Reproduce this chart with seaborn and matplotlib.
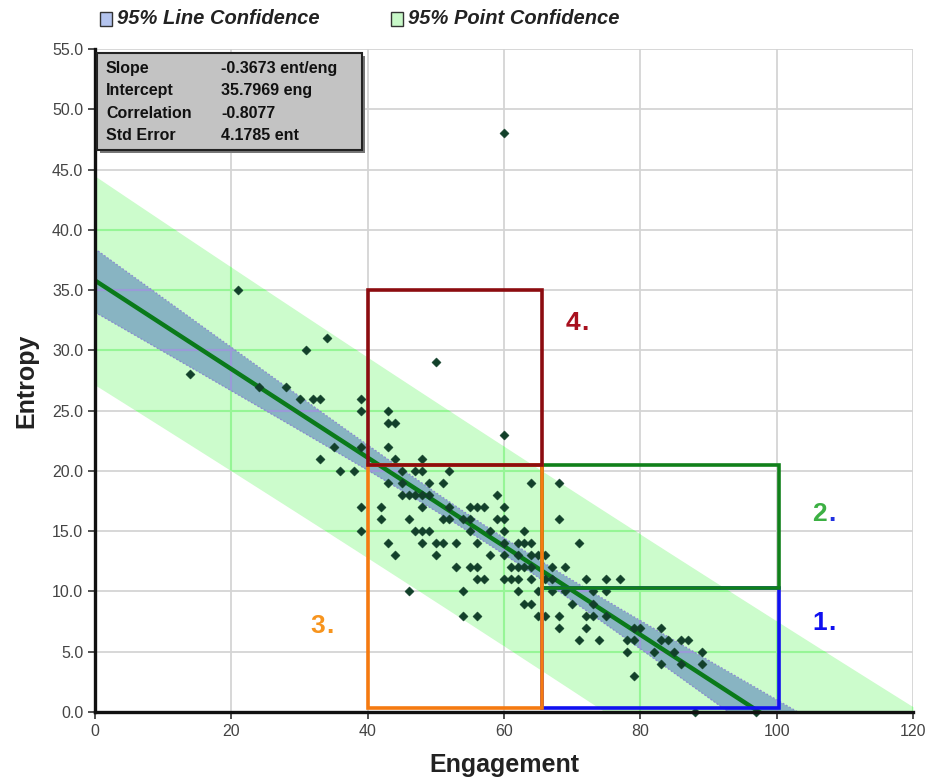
import numpy as np
import pandas as pd
import matplotlib
matplotlib.use("Agg")
import matplotlib.pyplot as plt
import matplotlib.patches as mpatches
import seaborn as sns

# ---------------- data ----------------
engagement = [14, 21, 24, 28, 30, 31, 32, 33, 34, 33, 35, 36, 38,
              39, 39, 39, 39, 39,
              42, 42,
              43, 43, 43, 43, 43,
              44, 44, 44,
              45, 45, 45,
              46, 46, 46,
              47, 47, 47,
              48, 48, 48, 48, 48, 48,
              49, 49, 49,
              50, 50, 50,
              51, 51, 51,
              52, 52, 52,
              53, 53,
              54, 54, 54,
              55, 55, 55, 55,
              56, 56, 56, 56, 56,
              57, 57,
              58, 58,
              59, 59,
              60, 60, 60, 60, 60, 60, 60, 60,
              61, 61,
              62, 62, 62, 62, 62,
              63, 63, 63, 63,
              64, 64, 64, 64, 64, 64,
              65, 65, 65,
              66, 66, 66,
              67, 67, 67,
              68, 68, 68, 68,
              69, 69,
              70,
              71, 71,
              72, 72, 72,
              73, 73, 73,
              74,
              75, 75, 75,
              77,
              78, 78,
              79, 79, 79,
              80,
              82,
              83, 83, 83,
              84,
              85,
              86, 86,
              87,
              88, 89, 89,
              97]
entropy = [28, 35, 27, 27, 26, 30, 26, 26, 31, 21, 22, 20, 20,
           26, 25, 22, 17, 15,
           17, 16,
           25, 24, 22, 19, 14,
           24, 21, 13,
           20, 19, 18,
           18, 16, 10,
           20, 18, 15,
           21, 20, 18, 17, 15, 14,
           19, 18, 15,
           29, 14, 13,
           19, 16, 14,
           20, 17, 16,
           14, 12,
           16, 10, 8,
           17, 16, 15, 12,
           17, 14, 12, 11, 8,
           17, 11,
           15, 13,
           18, 16,
           48, 23, 17, 16, 15, 14, 13, 11,
           12, 11,
           14, 13, 12, 11, 10,
           15, 14, 12, 9,
           19, 14, 13, 12, 11, 9,
           13, 10, 8,
           13, 11, 8,
           12, 11, 10,
           19, 16, 8, 7,
           12, 10,
           9,
           14, 6,
           11, 8, 7,
           10, 9, 8,
           6,
           11, 10, 8,
           11,
           6, 5,
           7, 6, 3,
           7,
           5,
           7, 6, 4,
           6,
           5,
           6, 4,
           6,
           0, 5, 4,
           0]

slope = -0.3673
intercept = 35.7969
correlation = -0.8077
std_error = 4.1785

stat_labels = ["Slope", "Intercept", "Correlation", "Std Error"]
stat_values = ["-0.3673 ent/eng", "35.7969 eng", "-0.8077", "4.1785 ent"]

legend_labels = ["95% Line Confidence", "95% Point Confidence"]

# quadrant boxes
boxes_x0 = [65.6, 65.6, 40.0, 40.0]
boxes_x1 = [100.3, 100.3, 65.6, 65.6]
boxes_y0 = [0.3, 10.3, 0.3, 20.5]
boxes_y1 = [10.3, 20.5, 20.5, 35.0]
box_labels = ["1.", "2.", "3.", "4."]

x_ticks = [0, 20, 40, 60, 80, 100, 120]
y_ticks = [0, 5, 10, 15, 20, 25, 30, 35, 40, 45, 50, 55]

df = pd.DataFrame({"Engagement": engagement, "Entropy": entropy})

# ---------------- figure ----------------
sns.set_theme(style="white")
plt.rcParams["font.family"] = ["Liberation Sans", "DejaVu Sans"]
narrow = ["Liberation Sans Narrow", "Liberation Sans", "DejaVu Sans"]

fig = plt.figure(figsize=(9.35, 7.83), dpi=100)
ax = fig.add_axes([95 / 935, 1 - 712 / 783, (913 - 95) / 935, (712 - 49) / 783])
ax.set_xlim(0, 120)
ax.set_ylim(0, 55)

# confidence bands
xv = np.array(engagement, dtype=float)
n = len(xv)
xbar = xv.mean()
sxx = ((xv - xbar) ** 2).sum()
xs = np.linspace(0, 120, 400)
yfit = intercept + slope * xs
se_line = std_error * np.sqrt(1 / n + (xs - xbar) ** 2 / sxx)
se_pt = std_error * np.sqrt(1 + 1 / n + (xs - xbar) ** 2 / sxx)
t = 1.976

grid_gray = "#d4d4d4"
for xt in x_ticks[1:]:
    ax.axvline(xt, color=grid_gray, lw=1.3, zorder=0.5)
for yt in y_ticks[1:]:
    ax.axhline(yt, color=grid_gray, lw=1.3, zorder=0.5)

pband = ax.fill_between(xs, yfit - t * se_pt, yfit + t * se_pt,
                        color="#ccfccc", lw=0, zorder=1)
lband = ax.fill_between(xs, yfit - t * se_line, yfit + t * se_line,
                        color="#88b4c2", lw=0, zorder=1.2)
ax.plot(xs, yfit - t * se_line, color="#8a8ad0", lw=0.9, ls=(0, (1.5, 1.5)), zorder=1.3)
ax.plot(xs, yfit + t * se_line, color="#8a8ad0", lw=0.9, ls=(0, (1.5, 1.5)), zorder=1.3)

# coloured grid lines inside the bands
for band, col, z in [(pband, "#96f596", 1.1), (lband, "#9a9ad8", 1.25)]:
    path = band.get_paths()[0]
    for xt in x_ticks[1:]:
        ln = ax.axvline(xt, color=col, lw=1.5, zorder=z)
        ln.set_clip_path(path, ax.transData)
    for yt in y_ticks[1:]:
        ln = ax.axhline(yt, color=col, lw=1.5, zorder=z)
        ln.set_clip_path(path, ax.transData)

# regression line
sns.lineplot(x=xs, y=yfit, color="#0a7a1a", lw=3.2, ax=ax, zorder=3)

# scatter
sns.scatterplot(data=df, x="Engagement", y="Entropy", marker="D", s=22,
                color="#12402a", edgecolor="#12402a", linewidth=0.3,
                ax=ax, zorder=4, clip_on=False)

# quadrant boxes (draw order: blue, green, orange, red)
box_colors = ["#1010f0", "#10801a", "#f57a10", "#8c0c10"]
for i in [0, 1, 2, 3]:
    r = mpatches.Rectangle((boxes_x0[i], boxes_y0[i]),
                           boxes_x1[i] - boxes_x0[i], boxes_y1[i] - boxes_y0[i],
                           fill=False, edgecolor=box_colors[i], lw=2.6,
                           zorder=5 + i)
    ax.add_patch(r)

label_main = ["#1010f0", "#3cb043", "#f7941d", "#a8101e"]
label_dot = ["#1010f0", "#2030e0", "#f7941d", "#a8101e"]
label_pos = [(105.2, 7.4), (105.2, 16.4), (31.6, 7.1), (69.0, 32.3)]
for i in range(4):
    lx, ly = label_pos[i]
    t1 = ax.text(lx, ly, box_labels[i][0], color=label_main[i], fontsize=19,
                 fontweight="bold", ha="left", va="center", zorder=10)
    ax.annotate(".", xy=(1, 0), xycoords=t1, xytext=(1, 0), textcoords="offset points",
                color=label_dot[i], fontsize=19, fontweight="bold",
                ha="left", va="bottom", zorder=10)

# axes styling
ax.set_xticks(x_ticks)
ax.set_xticklabels([str(v) for v in x_ticks])
ax.set_yticks(y_ticks)
ax.set_yticklabels([f"{v:.1f}" for v in y_ticks])
ax.tick_params(axis="both", colors="#333333", labelsize=11.5, length=5, width=1.2,
               direction="out", left=True, bottom=True)
ax.tick_params(axis="both", labelcolor="#444444")
for s in ["top", "right"]:
    ax.spines[s].set_visible(False)
for s in ["left", "bottom"]:
    ax.spines[s].set_color("#111111")
    ax.spines[s].set_linewidth(2.4)
    ax.spines[s].set_zorder(20)
ax.set_xlabel("Engagement", fontsize=18, fontweight="bold", color="#222222", labelpad=10)
ax.set_ylabel("Entropy", fontsize=18, fontweight="bold", color="#222222", labelpad=10)

# stats box
bx0, by0 = 97 / 935, 1 - 150 / 783
bw, bh = (362 - 97) / 935, (150 - 53) / 783
fig.patches.append(mpatches.Rectangle((bx0 + 0.003, by0 - 0.004), bw, bh, transform=fig.transFigure,
                                      facecolor="#777777", edgecolor="none", zorder=29))
fig.patches.append(mpatches.Rectangle((bx0, by0), bw, bh, transform=fig.transFigure,
                                      facecolor="#c3c3c3", edgecolor="#222222", lw=1.5, zorder=30))
row_y = [68, 91, 113, 136]
for lab, val, yy in zip(stat_labels, stat_values, row_y):
    fig.text(106 / 935, 1 - yy / 783, lab, family=narrow, fontsize=11.5, fontweight="bold",
             color="#111111", va="center", ha="left", zorder=31)
    fig.text(221 / 935, 1 - yy / 783, val, family=narrow, fontsize=11.5, fontweight="bold",
             color="#111111", va="center", ha="left", zorder=31)

# legend at top
leg_colors = ["#b4c4ee", "#c8f8c8"]
leg_x = [100, 391]
for lab, col, lx in zip(legend_labels, leg_colors, leg_x):
    fig.patches.append(mpatches.Rectangle((lx / 935, 1 - 26 / 783), 12 / 935, 14 / 783,
                                          transform=fig.transFigure, facecolor=col,
                                          edgecolor="#333333", lw=1.0))
    fig.text((lx + 17) / 935, 1 - 19 / 783, lab, family=narrow, fontsize=14.5,
             fontweight="bold", fontstyle="italic", color="#222222", va="center", ha="left")

fig.savefig("out.png", dpi=100)
